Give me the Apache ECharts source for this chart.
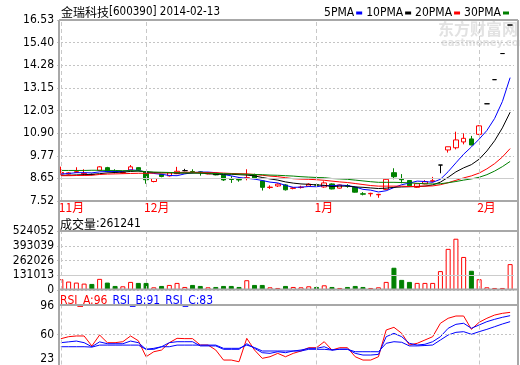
<!DOCTYPE html>
<html><head><meta charset="utf-8">
<script src="https://cdn.jsdelivr.net/npm/echarts@6/dist/echarts.min.js"></script>
<style>html,body{margin:0;padding:0;background:#fff}#c{width:520px;height:365px}</style>
</head><body><div id="c"></div>
<script>
// ---------- data ----------
const stockTitle = '金瑞科技[600390] 2014-02-13';
const dates = ['2013-11-15','2013-11-18','2013-11-19','2013-11-20','2013-11-21','2013-11-22','2013-11-25','2013-11-26','2013-11-27','2013-11-28','2013-11-29',
'2013-12-02','2013-12-03','2013-12-04','2013-12-05','2013-12-06','2013-12-09','2013-12-10','2013-12-11','2013-12-12','2013-12-13','2013-12-16','2013-12-17','2013-12-18','2013-12-19','2013-12-20','2013-12-23','2013-12-24','2013-12-25','2013-12-26','2013-12-27','2013-12-30','2013-12-31',
'2014-01-02','2014-01-03','2014-01-06','2014-01-07','2014-01-08','2014-01-09','2014-01-10','2014-01-13','2014-01-14','2014-01-15','2014-01-16','2014-01-17','2014-01-20','2014-01-21','2014-01-22','2014-01-23','2014-01-24','2014-01-27','2014-01-28','2014-01-29','2014-01-30',
'2014-02-07','2014-02-10','2014-02-11','2014-02-12','2014-02-13'];
const opens  = [8.87,8.86,8.95,8.87,8.84,9.04,9.18,8.98,8.92,9.06,9.18,8.97,8.49,8.84,8.77,8.88,9.03,8.99,8.97,8.87,8.87,8.81,8.61,8.59,8.66,8.84,8.52,8.19,8.27,8.32,8.15,8.19,8.26,8.33,8.22,8.37,8.16,8.29,8.20,7.88,7.88,7.83,8.10,8.93,8.62,8.54,8.20,8.37,8.50,9.31,10.06,10.17,10.46,10.61,10.84,12.36,13.56,14.86,16.28];
const closes = [8.94,8.92,8.98,8.90,8.84,9.22,8.99,8.97,8.94,9.22,9.07,8.58,8.64,8.74,8.92,9.00,9.03,8.94,8.93,8.92,8.82,8.57,8.59,8.57,8.68,8.66,8.20,8.21,8.36,8.08,8.17,8.21,8.36,8.31,8.42,8.12,8.32,8.26,7.96,7.86,7.90,7.85,8.60,8.73,8.58,8.28,8.38,8.48,8.53,9.31,10.22,10.56,10.64,10.31,11.26,12.36,13.56,14.86,16.28];
const lows   = [8.84,8.83,8.92,8.80,8.80,9.00,8.95,8.90,8.88,9.03,9.00,8.38,8.45,8.70,8.74,8.86,9.00,8.90,8.78,8.85,8.80,8.52,8.42,8.48,8.55,8.60,8.04,8.12,8.22,8.04,8.10,8.14,8.24,8.25,8.18,8.10,8.14,8.18,7.94,7.80,7.74,7.68,8.07,8.60,8.40,8.26,8.17,8.35,8.45,8.90,9.93,10.09,10.34,10.29,10.80,12.36,13.56,14.86,16.28];
const highs  = [9.23,8.96,9.20,9.10,8.88,9.25,9.22,9.10,8.98,9.31,9.20,8.99,8.66,8.86,8.94,9.22,9.12,9.10,9.00,8.94,8.89,8.82,8.76,8.70,9.10,8.88,8.55,8.30,8.40,8.36,8.20,8.28,8.40,8.36,8.50,8.40,8.34,8.36,8.22,7.96,7.93,7.88,8.62,9.15,8.86,8.56,8.40,8.56,8.72,9.31,10.22,10.97,10.89,10.76,11.30,12.36,13.56,14.86,16.28];
const ma5  = [8.86,8.89,8.93,8.93,8.92,8.97,8.99,8.98,8.99,9.07,9.04,8.96,8.89,8.85,8.79,8.78,8.87,8.93,8.96,8.96,8.93,8.84,8.77,8.69,8.65,8.61,8.54,8.46,8.42,8.30,8.20,8.21,8.24,8.23,8.29,8.28,8.31,8.29,8.22,8.10,8.06,7.97,8.03,8.19,8.33,8.41,8.51,8.49,8.45,8.60,8.98,9.42,9.85,10.21,10.60,11.03,11.63,12.47,13.66];
const ma10 = [8.80,8.80,8.82,8.83,8.85,8.88,8.92,8.94,8.96,8.99,9.01,8.97,8.94,8.92,8.93,8.91,8.91,8.91,8.91,8.88,8.85,8.85,8.85,8.83,8.81,8.77,8.69,8.62,8.56,8.47,8.41,8.37,8.35,8.32,8.30,8.24,8.26,8.26,8.22,8.20,8.17,8.14,8.16,8.20,8.22,8.23,8.24,8.26,8.32,8.46,8.70,8.97,9.17,9.33,9.60,10.01,10.52,11.16,11.94];
const ma20 = [8.78,8.78,8.79,8.79,8.80,8.84,8.86,8.87,8.88,8.89,8.90,8.90,8.91,8.92,8.93,8.94,8.95,8.95,8.94,8.93,8.93,8.91,8.89,8.88,8.87,8.84,8.80,8.76,8.73,8.68,8.63,8.61,8.60,8.58,8.55,8.51,8.47,8.44,8.39,8.34,8.29,8.26,8.26,8.26,8.26,8.24,8.25,8.26,8.27,8.33,8.43,8.55,8.67,8.77,8.91,9.12,9.38,9.71,10.13];
const ma30 = [9.04,9.04,9.04,9.04,9.05,9.05,9.04,9.04,9.03,9.03,9.02,8.98,8.96,8.95,8.94,8.93,8.92,8.92,8.91,8.90,8.89,8.88,8.87,8.86,8.85,8.84,8.83,8.81,8.80,8.78,8.76,8.73,8.71,8.69,8.68,8.64,8.62,8.60,8.56,8.52,8.48,8.45,8.45,8.45,8.44,8.42,8.40,8.38,8.37,8.38,8.43,8.49,8.56,8.62,8.70,8.83,9.01,9.23,9.49];
const volumes = [95900,74900,65900,56900,53900,98900,65900,36000,33000,71900,62900,62900,24000,36000,44900,62900,27000,44900,36000,24000,27000,36000,36000,27000,86900,44900,44900,24000,18000,36000,27000,24000,33000,27000,41900,27000,18000,27000,36000,27000,18000,24000,71900,197700,89900,71900,62900,62900,62900,167800,365500,455400,293600,170800,95900,24000,18000,18000,230000];
const rsiA = [54.9,57.4,58.3,58.3,45.9,59.5,50,50,51.2,58.3,52.4,32.6,38.8,40.9,50,55.4,55,55,47.1,47.1,40.9,28.5,28.5,26.4,55.4,40.9,30.6,32.6,36.8,32.6,36.8,39.7,43.8,43.8,51.2,40.9,43.8,43.8,32.6,28.5,28.5,32.6,65.7,69,61.6,47.1,49.2,53.3,57.4,74,80.2,83,83,66.5,75.2,80.2,84.2,86.3,87.5];
const rsiB = [50,51,52,50,45,51,48.7,48.7,48.7,52,50,41.8,43,45,50,51.2,51.2,51.2,46,46,46,41.8,41.8,41.8,48.7,43,37.6,36.8,38.8,37.6,39.7,40.9,43,43,45,40.9,42,42,36.8,34.7,34.7,35.5,57.4,61.6,57.4,49.2,47.1,48,51.2,57.4,67.8,72.7,74,67.8,71.9,76,78.9,81.4,83.4];
const rsiC = [45,45,45,45,44.5,47,47,47,47,47,47,41.8,41.8,45,45,47,47,47,47,47,47,43,43,43,47,44,39.7,39.7,39.7,39.7,39.7,39.7,41.8,41.8,41.8,40.9,41.8,41.8,38.8,38.8,38.8,38.8,49.2,51.2,50.5,46,46,46.5,47.1,53.3,59.5,62.8,63.6,60.4,63.6,66.5,69.8,73.1,76];
const priceTicks = [7.52,8.65,9.77,10.90,12.03,13.15,14.28,15.40,16.53];
const volTicks = [0,131013,262026,393039,524052];
const rsiTicks = [23,60,96];
const volLast = 261241;
const rsiLast = {A:96, B:91, C:83};
const maNames = ['5PMA','10PMA','20PMA','30PMA'];

// ---------- layout / style ----------
const LAT = '"Liberation Sans Narrow", "DejaVu Sans Condensed", "Liberation Sans", sans-serif';
const CJK = '"Noto Sans CJK SC", sans-serif';
const L = 57, R = 6;                 // data area
const FL = 59, FR = 518;             // frame lines
const G0 = {top:20, h:181}, G1 = {top:231, h:59}, G2 = {top:305.5, h:59};
const RED = '#ff0000', GREEN = '#008000', BLUE = '#0000ff', BLACK = '#000000';
const GRID_C = '#c4c4c4', FRAME_C = '#a8a8a8';

const candle = dates.map((d,i)=>[opens[i],closes[i],lows[i],highs[i]]);
const isUp = i => closes[i] > opens[i] || (closes[i] === opens[i] && (i === 0 || closes[i] >= closes[i-1]));
const volData = volumes.map((v,i)=>({value:v, itemStyle: isUp(i)
  ? {color:'#ffffff', borderColor:RED, borderWidth:1}
  : {color:GREEN, borderColor:GREEN, borderWidth:1}}));
const monthIdx = dates.map((d,i)=> (i===0 || d.slice(5,7)!==dates[i-1].slice(5,7)) ? i : -1).filter(i=>i>=0);
const monthName = i => parseInt(dates[i].slice(5,7),10) + '月';
const vLines = monthIdx.map(i=>({xAxis: dates[i]}));
const markBase = {symbol:'none', silent:true, animation:false, label:{show:false},
  lineStyle:{color:'#c8c8c8', type:[4,3], width:1}};
const solidStyle = {lineStyle:{type:'solid', color:'#cccccc', width:1}};

const labelStyle = {color:'#000', fontFamily:LAT, fontSize:12, fontWeight:'normal', showMinLabel:true, showMaxLabel:true};
const splitDot = {show:true, lineStyle:{color:GRID_C, type:[2,2], width:1}};
const richCn = {fontFamily:CJK, fontSize:12, color:'#000', fontWeight:'normal'};
const richEn = {fontFamily:LAT, fontSize:12, color:'#000', fontWeight:'normal'};

function xAx(gi, showLabel){
  return {type:'category', gridIndex:gi, data:dates, boundaryGap:true,
    axisLine:{show:false}, axisTick:{show:false}, splitLine:{show:false},
    axisLabel: showLabel ? {show:true, interval:(i)=>monthIdx.indexOf(i)>=0,
      formatter:(v,i)=>monthName(i), color:RED, fontFamily:CJK, fontSize:12, align:'left', margin:0, padding:[0,0,0,-2]}
      : {show:false}};
}

const option = {
  animation:false,
  backgroundColor:'#ffffff',
  title:[
    {left:61, top:6, padding:0, text:'{c|' + stockTitle.slice(0,4) + '}{e|' + stockTitle.slice(4) + '}',
      textStyle:{fontWeight:'normal', rich:{c:richCn, e:Object.assign({}, richEn, {fontSize:11.5})}}},
    {left:60, top:218, padding:0, text:'{c|成交量}{e|:' + volLast + '}',
      textStyle:{fontWeight:'normal', rich:{c:richCn, e:richEn}}},
    {left:60, top:292, padding:0, text:'{a|RSI_A:' + rsiLast.A + '} {b|RSI_B:' + rsiLast.B + '} {b|RSI_C:' + rsiLast.C + '}',
      textStyle:{fontWeight:'normal', rich:{a:Object.assign({}, richEn, {color:RED}), b:Object.assign({}, richEn, {color:BLUE})}}}
  ],
  legend:{right:11, top:7, padding:0, align:'right', icon:'rect', itemWidth:6, itemHeight:3, itemGap:4,
    data:maNames, textStyle:{fontFamily:LAT, fontSize:12, color:'#000', padding:[0,-3,0,0]}, selectedMode:false},
  grid:[
    {left:L, right:R, top:G0.top, height:G0.h},
    {left:L, right:R, top:G1.top, height:G1.h},
    {left:L, right:R, top:G2.top, height:G2.h}
  ],
  xAxis:[xAx(0,true), xAx(1,false), xAx(2,false)],
  yAxis:[
    {type:'value', gridIndex:0, min:priceTicks[0], max:priceTicks[priceTicks.length-1],
      axisLine:{show:false}, axisTick:{show:false, customValues:priceTicks},
      axisLabel:Object.assign({customValues:priceTicks, formatter:v=>v.toFixed(2), margin:3}, labelStyle),
      splitLine:splitDot},
    {type:'value', gridIndex:1, min:volTicks[0], max:volTicks[volTicks.length-1], interval:volTicks[1],
      axisLine:{show:false}, axisTick:{show:false},
      axisLabel:Object.assign({formatter:v=>String(v), margin:3}, labelStyle),
      splitLine:splitDot},
    {type:'value', gridIndex:2, min:rsiTicks[0], max:rsiTicks[rsiTicks.length-1],
      axisLine:{show:false}, axisTick:{show:false, customValues:rsiTicks},
      axisLabel:Object.assign({customValues:rsiTicks, formatter:v=>String(v), margin:3, verticalAlignMinLabel:'bottom'}, labelStyle),
      splitLine:{show:false}}
  ],
  series:[
    {type:'candlestick', name:'K', xAxisIndex:0, yAxisIndex:0, data:candle, barWidth:5,
      itemStyle:{color:'#ffffff', color0:GREEN, borderColor:RED, borderColor0:GREEN, borderColorDoji:BLACK, borderWidth:1},
      markLine:Object.assign({}, markBase, {data: vLines.concat([Object.assign({yAxis:priceTicks[1]}, solidStyle)])})},
    {type:'line', name:maNames[0], xAxisIndex:0, yAxisIndex:0, data:ma5, showSymbol:false, lineStyle:{color:BLUE,width:1}, itemStyle:{color:BLUE}},
    {type:'line', name:maNames[1], xAxisIndex:0, yAxisIndex:0, data:ma10, showSymbol:false, lineStyle:{color:BLACK,width:1}, itemStyle:{color:BLACK}},
    {type:'line', name:maNames[2], xAxisIndex:0, yAxisIndex:0, data:ma20, showSymbol:false, lineStyle:{color:RED,width:1}, itemStyle:{color:RED}},
    {type:'line', name:maNames[3], xAxisIndex:0, yAxisIndex:0, data:ma30, showSymbol:false, lineStyle:{color:GREEN,width:1}, itemStyle:{color:GREEN}},
    {type:'bar', name:'VOL', xAxisIndex:1, yAxisIndex:1, data:volData, barWidth:5,
      markLine:Object.assign({}, markBase, {data: vLines.concat([Object.assign({yAxis:volTicks[1]}, solidStyle)])})},
    {type:'line', name:'RSI_A', xAxisIndex:2, yAxisIndex:2, data:rsiA, showSymbol:false, lineStyle:{color:RED,width:1},
      markLine:Object.assign({}, markBase, {data: vLines.concat([{yAxis:rsiTicks[1], lineStyle:{type:[2,2], color:GRID_C, width:1}}])})},
    {type:'line', name:'RSI_B', xAxisIndex:2, yAxisIndex:2, data:rsiB, showSymbol:false, lineStyle:{color:BLUE,width:1}},
    {type:'line', name:'RSI_C', xAxisIndex:2, yAxisIndex:2, data:rsiC, showSymbol:false, lineStyle:{color:BLUE,width:1}}
  ],
  graphic:[
    {type:'text', left:438, top:21, z:-1, silent:true, style:{text:'东方财富网', fill:'#e2e2e2', font:'bold 16px "Noto Sans CJK SC", sans-serif'}},
    {type:'text', left:441, top:38, z:-1, silent:true, style:{text:'eastmoney.com', fill:'#e2e2e2', font:'bold 10px "DejaVu Sans", sans-serif'}},
    // frame
    {type:'line', z:100, silent:true, shape:{x1:FL,y1:G0.top,x2:FL,y2:365}, style:{stroke:FRAME_C, lineWidth:2}},
    {type:'line', z:100, silent:true, shape:{x1:FR,y1:G0.top,x2:FR,y2:365}, style:{stroke:FRAME_C, lineWidth:2}},
    {type:'line', z:100, silent:true, shape:{x1:FL,y1:G0.top,x2:FR,y2:G0.top}, style:{stroke:FRAME_C, lineWidth:2}},
    {type:'line', z:100, silent:true, shape:{x1:FL,y1:G0.top+G0.h,x2:FR,y2:G0.top+G0.h}, style:{stroke:FRAME_C, lineWidth:2}},
    {type:'line', z:100, silent:true, shape:{x1:FL,y1:G1.top,x2:FR,y2:G1.top}, style:{stroke:FRAME_C, lineWidth:2}},
    {type:'line', z:100, silent:true, shape:{x1:FL,y1:G1.top+G1.h-0.5,x2:FR,y2:G1.top+G1.h-0.5}, style:{stroke:FRAME_C, lineWidth:2}},
    {type:'line', z:100, silent:true, shape:{x1:FL,y1:G2.top-0.5,x2:FR,y2:G2.top-0.5}, style:{stroke:FRAME_C, lineWidth:2}}
  ]
};
const chart = echarts.init(document.getElementById('c'), null, {width:520, height:365});
chart.setOption(option);
</script></body></html>
